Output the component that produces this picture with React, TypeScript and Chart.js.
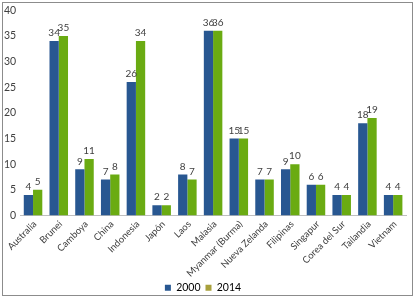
import React, { useEffect, useRef } from "react";
import { Chart, registerables } from "chart.js";

Chart.register(...registerables);

const categories = [
  "Australia", "Brunei", "Camboya", "China", "Indonesia", "Japón", "Laos", "Malasia",
  "Myanmar (Burma)", "Nueva Zelanda", "Filipinas", "Singapur", "Corea del Sur", "Tailandia", "Vietnam",
];
const values2000 = [4, 34, 9, 7, 26, 2, 8, 36, 15, 7, 9, 6, 4, 18, 4];
const values2014 = [5, 35, 11, 8, 34, 2, 7, 36, 15, 7, 10, 6, 4, 19, 4];
const seriesLabels = ["2000", "2014"];
const yMax = 40;
const yStep = 5;

const BLUE = "#285791";
const GREEN = "#6aab12";
const LEGEND_OLIVE = "#a8a03c";
const FONT = "Lato, 'Open Sans', sans-serif";

const valueLabels = {
  id: "valueLabels",
  afterDatasetsDraw(chart: any) {
    const ctx = chart.ctx;
    ctx.save();
    ctx.font = `10px ${FONT}`;
    ctx.fillStyle = "#404040";
    ctx.textAlign = "center";
    ctx.textBaseline = "bottom";
    chart.data.datasets.forEach((ds: any, i: number) => {
      const meta = chart.getDatasetMeta(i);
      meta.data.forEach((bar: any, j: number) => {
        ctx.fillText(String(ds.data[j]), bar.x, bar.y - 3);
      });
    });
    ctx.restore();
  },
};

// Rotated category labels drawn at the x scale's own tick positions
const rotatedCategoryLabels = {
  id: "rotatedCategoryLabels",
  afterDraw(chart: any) {
    const scale = chart.scales.x;
    const ctx = chart.ctx;
    ctx.save();
    ctx.font = `9.5px ${FONT}`;
    ctx.fillStyle = "#404040";
    ctx.textAlign = "right";
    ctx.textBaseline = "middle";
    const labels = chart.data.labels as string[];
    labels.forEach((lab, i) => {
      const x = scale.getPixelForTick(i);
      ctx.save();
      ctx.translate(x + 2, scale.top + 7);
      ctx.rotate(-Math.PI / 4);
      ctx.fillText(lab, 0, 0);
      ctx.restore();
    });
    ctx.restore();
  },
};

export default function App() {
  const ref = useRef<HTMLCanvasElement | null>(null);
  useEffect(() => {
    document.body.style.margin = "0";
    if (!ref.current) return;
    const chart = new Chart(ref.current, {
      type: "bar",
      data: {
        labels: categories,
        datasets: [
          { label: seriesLabels[0], data: values2000, backgroundColor: BLUE, categoryPercentage: 0.72, barPercentage: 1 },
          { label: seriesLabels[1], data: values2014, backgroundColor: GREEN, categoryPercentage: 0.72, barPercentage: 1 },
        ],
      },
      options: {
        animation: false,
        responsive: false,
        devicePixelRatio: 1,
        layout: { padding: { left: 0, right: 12, top: 5, bottom: 0 } },
        plugins: {
          tooltip: { enabled: false },
          legend: {
            position: "bottom",
            labels: {
              font: { family: FONT, size: 10.5 },
              color: "#262626",
              boxWidth: 6,
              boxHeight: 6,
              padding: 5,
              generateLabels: (c: any) =>
                c.data.datasets.map((ds: any, i: number) => ({
                  text: ds.label,
                  fillStyle: i === 0 ? BLUE : LEGEND_OLIVE,
                  strokeStyle: i === 0 ? BLUE : LEGEND_OLIVE,
                  lineWidth: 0,
                  hidden: false,
                  datasetIndex: i,
                })),
            },
          },
        },
        scales: {
          x: {
            grid: { display: false, drawTicks: false, tickLength: 0 },
            border: { display: true, color: "#bfbfbf" },
            afterFit: (s: any) => {
              s.height = 62;
            },
            ticks: { display: false },
          },
          y: {
            min: 0,
            max: yMax,
            grid: { display: false, drawTicks: false, tickLength: 0 },
            border: { display: false },
            ticks: {
              stepSize: yStep,
              font: { family: FONT, size: 10.5 },
              color: "#404040",
              padding: 4,
            },
          },
        },
      },
      plugins: [valueLabels, rotatedCategoryLabels],
    });
    return () => chart.destroy();
  }, []);
  return (
    <div style={{ position: "relative", width: 418, height: 303, background: "#fff" }}>
      <div
        style={{
          position: "absolute",
          left: 2,
          top: 2,
          width: 411,
          height: 294,
          border: "1px solid #8c8c8c",
          boxSizing: "border-box",
        }}
      />
      <canvas ref={ref} width={418} height={303} style={{ position: "absolute", left: 0, top: 0 }} />
    </div>
  );
}
